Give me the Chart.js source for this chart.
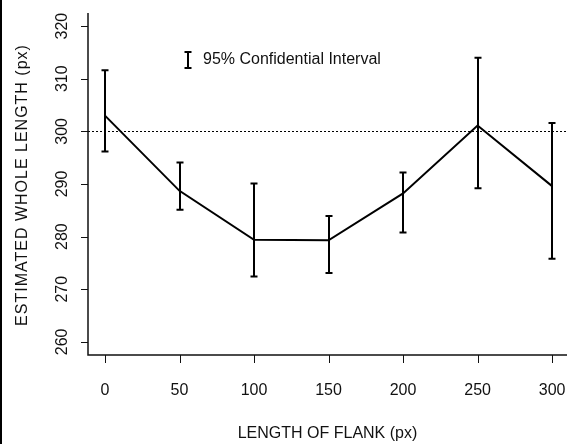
<!DOCTYPE html>
<html>
<head>
<meta charset="utf-8">
<script src="https://cdn.jsdelivr.net/npm/chart.js@4"></script>
<style>
html,body{margin:0;padding:0;background:#fff;}
canvas{display:block;}
</style>
</head>
<body>
<canvas id="c" width="567" height="444"></canvas>
<script>
const flankLengths = [0, 50, 100, 150, 200, 250, 300];
const meanLengths  = [303.0, 288.7, 279.4, 279.3, 288.2, 301.1, 289.6];
const upperCI      = [311.6, 294.1, 290.1, 283.9, 292.2, 314.0, 301.6];
const lowerCI      = [296.2, 285.1, 272.4, 273.1, 280.8, 289.2, 275.8];
const xTickValues  = [0, 50, 100, 150, 200, 250, 300];
const yTickValues  = [260, 270, 280, 290, 300, 310, 320];
const referenceLength = 300;
const xTitle = 'LENGTH OF FLANK (px)';
const yTitle = 'ESTIMATED WHOLE LENGTH (px)';
const legendText = '95% Confidential Interval';

const FONT = '16px "Liberation Sans", Arial, sans-serif';

const drawPlugin = {
  id: 'custom',
  beforeDatasetsDraw(chart) {
    const ctx = chart.ctx, ys = chart.scales.y, a = chart.chartArea;
    ctx.save();
    ctx.strokeStyle = '#000';
    ctx.lineWidth = 1;
    ctx.setLineDash([2, 2]);
    const yr = Math.round(ys.getPixelForValue(referenceLength)) + 0.5;
    ctx.beginPath();
    ctx.moveTo(a.left, yr);
    ctx.lineTo(a.right, yr);
    ctx.stroke();
    ctx.restore();
  },
  afterDatasetsDraw(chart) {
    const ctx = chart.ctx, xs = chart.scales.x, ys = chart.scales.y;
    ctx.save();
    ctx.strokeStyle = '#000';
    ctx.lineWidth = 2;
    flankLengths.forEach((v, i) => {
      const px = Math.round(xs.getPixelForValue(v));
      const pu = ys.getPixelForValue(upperCI[i]);
      const pl = ys.getPixelForValue(lowerCI[i]);
      ctx.beginPath();
      ctx.moveTo(px, pu); ctx.lineTo(px, pl);
      ctx.moveTo(px - 3.5, pu); ctx.lineTo(px + 3.5, pu);
      ctx.moveTo(px - 3.5, pl); ctx.lineTo(px + 3.5, pl);
      ctx.stroke();
    });
    ctx.restore();
  },
  afterDraw(chart) {
    const ctx = chart.ctx, xs = chart.scales.x, ys = chart.scales.y, a = chart.chartArea;
    ctx.save();
    ctx.fillStyle = '#000';
    ctx.fillRect(0, 0, 2, chart.height);
    ctx.strokeStyle = '#111';
    ctx.lineWidth = 1.5;
    ctx.beginPath();
    ctx.moveTo(a.left, a.top);
    ctx.lineTo(a.left, a.bottom);
    ctx.lineTo(a.right, a.bottom);
    ctx.stroke();
    ctx.lineWidth = 1;
    ctx.beginPath();
    xTickValues.forEach(v => {
      const px = Math.round(xs.getPixelForValue(v)) + 0.5;
      ctx.moveTo(px, a.bottom); ctx.lineTo(px, a.bottom + 8);
    });
    yTickValues.forEach(v => {
      const py = Math.round(ys.getPixelForValue(v)) + 0.5;
      ctx.moveTo(a.left, py); ctx.lineTo(a.left - 7, py);
    });
    ctx.stroke();
    ctx.fillStyle = '#111';
    ctx.font = FONT;
    ctx.textAlign = 'center';
    ctx.textBaseline = 'middle';
    xTickValues.forEach(v => {
      ctx.fillText(String(v), xs.getPixelForValue(v), 391);
    });
    yTickValues.forEach(v => {
      ctx.save();
      ctx.translate(62.5, ys.getPixelForValue(v));
      ctx.rotate(-Math.PI / 2);
      ctx.fillText(String(v), 0, 0);
      ctx.restore();
    });
    ctx.fillText(xTitle, (a.left + a.right) / 2, 434);
    ctx.save();
    ctx.translate(22.5, 185);
    ctx.rotate(-Math.PI / 2);
    ctx.letterSpacing = '1px';
    ctx.fillText(yTitle, 0, 0);
    ctx.restore();
    ctx.strokeStyle = '#000';
    ctx.lineWidth = 2;
    ctx.beginPath();
    ctx.moveTo(188, 52); ctx.lineTo(188, 68);
    ctx.moveTo(184.5, 52); ctx.lineTo(191.5, 52);
    ctx.moveTo(184.5, 68); ctx.lineTo(191.5, 68);
    ctx.stroke();
    ctx.textAlign = 'left';
    ctx.fillText(legendText, 203, 60);
    ctx.restore();
  }
};

new Chart(document.getElementById('c'), {
  type: 'line',
  data: {
    datasets: [{
      data: flankLengths.map((x, i) => ({ x: x, y: meanLengths[i] })),
      borderColor: '#000',
      borderWidth: 2,
      pointRadius: 0,
      tension: 0,
      fill: false
    }]
  },
  options: {
    responsive: false,
    animation: false,
    devicePixelRatio: 1,
    layout: { padding: { top: 13, right: 0, left: 0, bottom: 0 } },
    plugins: { legend: { display: false }, tooltip: { enabled: false }, title: { display: false } },
    scales: {
      x: {
        type: 'linear', min: -11.4, max: 310,
        ticks: { display: false }, grid: { display: false }, border: { display: false },
        afterFit(s) { s.height = 89; }
      },
      y: {
        min: 257.5, max: 322.5,
        ticks: { display: false }, grid: { display: false }, border: { display: false },
        afterFit(s) { s.width = 88; }
      }
    }
  },
  plugins: [drawPlugin]
});
</script>
</body>
</html>
